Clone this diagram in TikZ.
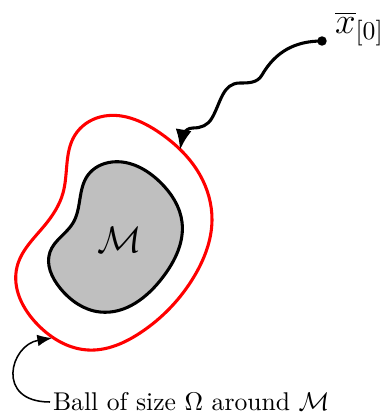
\documentclass[tikz,border=0pt]{standalone}
\usetikzlibrary{arrows.meta,hobby}
\tikzset{
  >={Latex[length=2.8mm,width=2.2mm]},
  ball/.style={draw=red,very thick},
  manifold/.style={draw=black,very thick,fill=black!25},
  flow/.style={->,very thick,line cap=round},
  note/.style={-{Latex[length=2mm,width=1.6mm]},semithick},
  dot/.style={circle,fill=black,inner sep=0pt,minimum size=1.3mm},
}
\begin{document}
\begin{tikzpicture}[x=0.0137cm,y=0.0137cm]
  \useasboundingbox (0,0) rectangle (388,415);
  % the ball around M
  \draw[ball,use Hobby shortcut,closed=true] (100,298) .. (160,282) .. (200,240)
    .. (212,195) .. (195,140) .. (140,82) .. (88,65) .. (38,90) .. (17,148)
    .. (45,190) .. (63,222) .. (75,280);
  % the set M
  \draw[manifold,use Hobby shortcut,closed=true] (112,253) .. (160,233) .. (182,193)
    .. (163,138) .. (100,103) .. (60,127) .. (50,163) .. (73,192) .. (88,240);
  \node (M) at (120,175) {\Large$\mathcal{M}$};
  % start point and its path
  \node[dot] (start) at (322,374) {};
  \node[anchor=west] (x0) at (326,386) {\Large$\overline{x}_{[0]}$};
  \coordinate (hit) at (180,265);
  \draw[flow] (start.center) to[out=180,in=60] (262,340) to[out=240,in=0] (240,332)
    to[out=180,in=60] (212,297) to[out=240,in=0] (193,287) to[out=180,in=80] (hit);
  % caption
  \node[anchor=west,inner sep=1pt] (balltxt) at (50,13) {Ball of size $\Omega$ around $\mathcal{M}$};
  \coordinate (ballend) at (52,77);
  \draw[note] (balltxt.west) .. controls (-5,13) and (10,70) .. (ballend);
\end{tikzpicture}
\end{document}
